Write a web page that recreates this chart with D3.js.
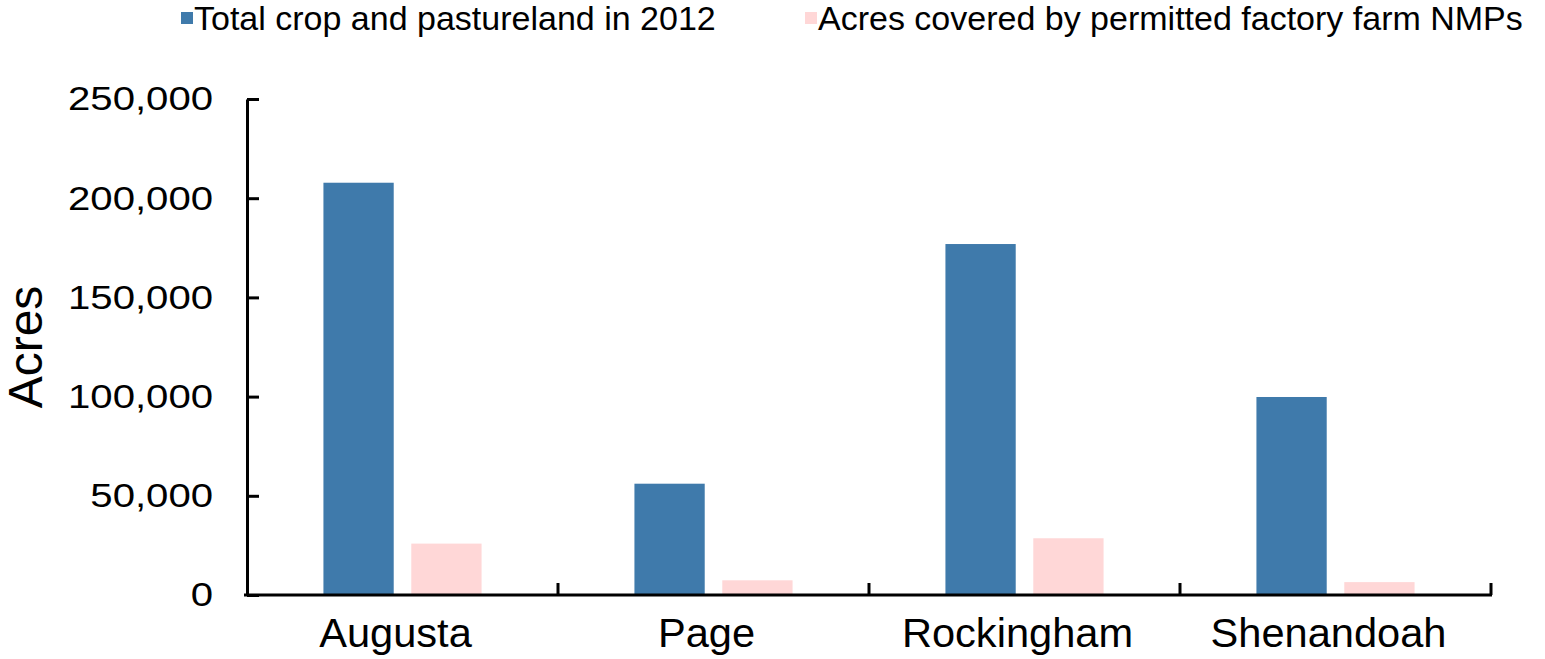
<!DOCTYPE html>
<html>
<head>
<meta charset="utf-8">
<script src="https://cdn.jsdelivr.net/npm/d3@7"></script>
<style>
  body { margin: 0; background: #fff; }
  svg text { font-family: "Liberation Sans", Arial, Helvetica, sans-serif; fill: #000; }
</style>
</head>
<body>
<svg id="chart" width="1545" height="659"></svg>
<script>
// data
const counties = ['Augusta', 'Page', 'Rockingham', 'Shenandoah'];
const seriesNames = ['Total crop and pastureland in 2012', 'Acres covered by permitted factory farm NMPs'];
const totalLand = [207800, 56100, 176900, 99800];
const nmpAcres = [25900, 7400, 28600, 6500];
const yTicks = [0, 50000, 100000, 150000, 200000, 250000];
const colors = ['#3f7aab', '#ffd7d7'];

const rows = counties.map((c, i) => ({ county: c, values: [totalLand[i], nmpAcres[i]] }));

const svg = d3.select('#chart');
const plotLeft = 247;
const plotRight = 1491;
const plotTop = 99;
const plotBottom = 595;

const x0 = d3.scaleBand()
  .domain(counties)
  .range([plotLeft, plotRight])
  .paddingInner(0)
  .paddingOuter(0);

const x1 = d3.scaleBand()
  .domain([0, 1])
  .range([0, x0.bandwidth()])
  .paddingInner(0.2)
  .paddingOuter(0.87);

const y = d3.scaleLinear()
  .domain([0, 250000])
  .range([plotBottom, plotTop]);

// bars
const groups = svg.append('g').selectAll('g')
  .data(rows)
  .enter()
  .append('g')
  .attr('transform', d => `translate(${x0(d.county)},0)`);

groups.selectAll('rect')
  .data(d => d.values.map((v, i) => ({ v, i })))
  .enter()
  .append('rect')
  .attr('x', d => x1(d.i))
  .attr('width', x1.bandwidth())
  .attr('y', d => y(d.v))
  .attr('height', d => y(0) - y(d.v))
  .attr('fill', d => colors[d.i]);

// y axis, ticks point inward
const sx = 1.18;
const yAxis = svg.append('g')
  .attr('transform', `translate(${plotLeft},0)`)
  .call(d3.axisLeft(y)
    .tickValues(yTicks)
    .tickSizeInner(-12)
    .tickSizeOuter(0)
    .tickPadding(34)
    .tickFormat(d3.format(',')));

yAxis.select('.domain').attr('stroke', '#000').attr('stroke-width', 3);
yAxis.selectAll('.tick line').attr('stroke', '#000').attr('stroke-width', 3);
yAxis.selectAll('.tick text')
  .attr('font-size', 34)
  .attr('x', -34 / sx)
  .attr('transform', `scale(${sx},1)`);

// x axis baseline with ticks at category boundaries
svg.append('line')
  .attr('x1', plotLeft - 3)
  .attr('x2', plotRight + 1)
  .attr('y1', y(0))
  .attr('y2', y(0))
  .attr('stroke', '#000')
  .attr('stroke-width', 3);

const bounds = counties.slice(1).map(c => x0(c)).concat([plotRight]);
svg.append('g').selectAll('line')
  .data(bounds)
  .enter()
  .append('line')
  .attr('x1', d => d)
  .attr('x2', d => d)
  .attr('y1', y(0))
  .attr('y2', y(0) - 12)
  .attr('stroke', '#000')
  .attr('stroke-width', 3);

// category labels
const lx = 1.04;
svg.append('g').selectAll('text')
  .data(counties)
  .enter()
  .append('text')
  .attr('x', d => (x0(d) + x0.bandwidth() / 2 - 7) / lx)
  .attr('y', 647)
  .attr('transform', `scale(${lx},1)`)
  .attr('text-anchor', 'middle')
  .attr('font-size', 40)
  .text(d => d);

// y axis title
svg.append('text')
  .attr('transform', `translate(42,${(plotTop + plotBottom) / 2}) rotate(-90)`)
  .attr('text-anchor', 'middle')
  .attr('font-size', 48)
  .text('Acres');

// legend
const legendX = [194, 818];
const legend = svg.append('g').selectAll('g')
  .data(seriesNames)
  .enter()
  .append('g')
  .attr('transform', (d, i) => `translate(${legendX[i]},0)`);

legend.append('rect')
  .attr('x', -13)
  .attr('y', 12)
  .attr('width', 12)
  .attr('height', 12)
  .attr('fill', (d, i) => colors[i]);

legend.append('text')
  .attr('x', 0)
  .attr('y', 30)
  .attr('font-size', 34)
  .text(d => d);
</script>
</body>
</html>
